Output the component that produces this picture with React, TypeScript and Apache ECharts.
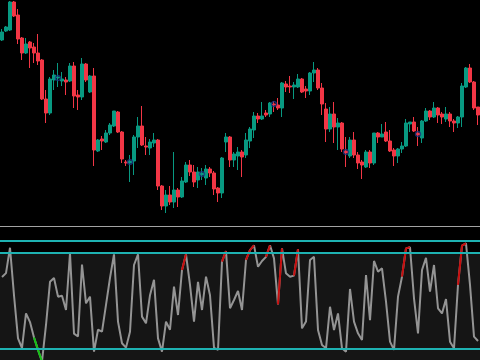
import React, { useEffect, useRef } from "react";
import * as echarts from "echarts";

const openPrices = [
  180, 189, 190, 218, 205, 182, 167, 178, 173, 167,
  160, 121, 107, 140, 142, 139, 140, 139, 154, 125,
  123, 156, 128, 144, 69, 81, 78, 87, 94, 108,
  88, 58, 57, 59, 83, 94, 74, 72, 77, 80,
  34, 14, 25, 18, 30, 23, 38, 55, 48, 40,
  45, 42, 51, 47, 32, 27, 78, 83, 60, 64,
  68, 65, 79, 90, 104, 101, 107, 106, 116, 115,
  112, 136, 134, 133, 133, 141, 131, 129, 147, 150,
  132, 111, 91, 106, 93, 97, 69, 64, 80, 65,
  58, 53, 68, 57, 87, 83, 88, 79, 70, 64,
  71, 74, 96, 98, 87, 82, 99, 109, 103, 112,
  106, 101, 106, 99, 97, 103, 133, 152, 138, 113,
];
const closePrices = [
  188, 193, 218, 204, 181, 167, 176, 172, 167, 159,
  121, 107, 141, 145, 143, 141, 138, 154, 124, 123,
  156, 140, 144, 70, 80, 79, 87, 95, 109, 88,
  61, 57, 59, 83, 94, 75, 73, 78, 80, 34,
  14, 25, 18, 30, 23, 39, 55, 48, 38, 48,
  47, 51, 47, 31, 27, 62, 83, 60, 66, 68,
  63, 80, 91, 104, 101, 104, 105, 117, 115, 112,
  137, 133, 133, 135, 141, 128, 129, 147, 150, 132,
  116, 91, 106, 93, 97, 71, 67, 80, 65, 57,
  55, 68, 57, 87, 83, 86, 79, 69, 64, 71,
  74, 97, 98, 89, 85, 99, 109, 103, 112, 105,
  103, 106, 99, 97, 103, 134, 152, 138, 112, 105,
];
const lowPrices = [
  179, 188, 189, 203, 176, 160, 166, 152, 157, 155,
  120, 97, 105, 130, 133, 134, 125, 138, 112, 110,
  120, 138, 127, 54, 68, 70, 77, 85, 93, 87,
  57, 54, 38, 45, 72, 74, 65, 65, 73, 30,
  10, 7, 15, 12, 13, 22, 37, 44, 33, 32,
  40, 35, 43, 25, 18, 22, 68, 53, 53, 50,
  43, 62, 72, 82, 97, 100, 103, 103, 108, 110,
  103, 128, 127, 121, 132, 127, 122, 125, 138, 130,
  105, 78, 88, 77, 70, 68, 53, 62, 62, 51,
  41, 52, 52, 55, 77, 83, 78, 68, 54, 57,
  67, 73, 88, 88, 74, 77, 98, 100, 102, 97,
  96, 98, 93, 88, 92, 93, 132, 137, 110, 95,
];
const highPrices = [
  191, 194, 219, 219, 211, 183, 182, 179, 177, 186,
  161, 130, 143, 150, 157, 148, 143, 157, 158, 130,
  162, 157, 145, 152, 81, 84, 90, 97, 109, 109,
  89, 60, 65, 85, 103, 114, 83, 81, 87, 81,
  35, 30, 34, 68, 32, 43, 58, 60, 55, 53,
  52, 55, 53, 49, 33, 63, 87, 84, 68, 73,
  70, 87, 93, 108, 107, 118, 110, 118, 119, 122,
  138, 139, 144, 138, 146, 142, 134, 148, 158, 152,
  137, 117, 113, 118, 102, 98, 83, 83, 88, 68,
  60, 70, 70, 87, 88, 96, 98, 90, 72, 72,
  78, 101, 98, 103, 93, 100, 112, 110, 118, 113,
  108, 113, 108, 101, 104, 137, 153, 156, 139, 113,
];

// bars (1-based) carrying a signal circle, and the price it sits at
const signalBars = [15, 33, 51, 69, 87, 105];
const signalPrices = [142, 58, 46, 116, 68, 86];

const oscillator = [
  75, 79, 105.5, 56, 11, 1, 37, 28, 12, -1,
  -13, 25, 70, 74, 54.5, 55.5, 40.6, 99.7, 16, 13,
  88, 47.6, 54.5, -2.8, 20, 18, 46, 74, 98.6, 28.5,
  6, 1.4, 18, 87.5, 98.6, 33.7, 26.7, 56, 72, 11,
  -2.8, 28.5, 20, 65, 35.4, 82.3, 98.6, 66.7, 28.5, 70,
  40.6, 75.3, 56, 1.4, -1, 91, 102, 42.4, 51, 60.4,
  40.6, 92.7, 103, 108, 85.7, 91.7, 96, 108, 94.4, 46.5,
  104.8, 78.8, 75.3, 76.4, 104, 21.5, 28.5, 92.7, 96, 19.8,
  4.2, 0.7, 44, 19.8, 37, 0.7, -2.8, 62.5, 28.5, 16.3,
  9.4, 77, 30, 91.7, 80.5, 84, 49.3, 7.6, -1, 54.5,
  75.3, 104.8, 106, 52.8, 16.3, 82.3, 95, 59.7, 87.5, 42.4,
  37, 52, 7.6, 0.7, 66.7, 107.6, 110, 66.7, 12.8, 8.3,
];
// bar ranges (1-based, inclusive) where the oscillator is drawn red / green
const redSegments = [[46, 47], [56, 57], [62, 64], [67, 68], [70, 71], [74, 75], [101, 103], [115, 117]];
const greenSegments = [[9, 11]];
const levelLines = [0, 100, 112.5];
const oscMin = -11.5;
const oscMax = 125;

export default function App() {
  const ref = useRef<HTMLDivElement>(null);
  useEffect(() => {
    const chart = echarts.init(ref.current!, null, { renderer: "svg" });
    const cats = openPrices.map((_, i) => String(i + 1));
    const candles = openPrices.map((o, i) => [o, closePrices[i], lowPrices[i], highPrices[i]]);
    const mask = (segs: number[][]) =>
      oscillator.map((v, i) => (segs.some(([a, b]) => i + 1 >= a && i + 1 <= b) ? v : null));
    const signals = signalBars.map((b, i) => [b - 1, signalPrices[i]]);
    chart.setOption({
      animation: false,
      backgroundColor: "#000000",
      grid: [
        { left: -2.7, right: -0.2, top: 0, height: 220 },
        { left: -2.7, right: -0.2, top: 229, bottom: 0 },
      ],
      xAxis: [
        { type: "category", data: cats, gridIndex: 0, show: false },
        { type: "category", data: cats, gridIndex: 1, show: false },
      ],
      yAxis: [
        { type: "value", gridIndex: 0, min: 0, max: 220, show: false },
        { type: "value", gridIndex: 1, min: oscMin, max: oscMax, show: false },
      ],
      graphic: [
        {
          type: "line",
          shape: { x1: 0, y1: 226.5, x2: 480, y2: 226.5 },
          style: { stroke: "#a3a3a3", lineWidth: 1 },
        },
      ],
      series: [
        {
          type: "candlestick",
          xAxisIndex: 0,
          yAxisIndex: 0,
          data: candles,
          barWidth: 2.6,
          itemStyle: {
            color: "#089981",
            color0: "#f23645",
            borderColor: "#089981",
            borderColor0: "#f23645",
            borderWidth: 1,
          },
        },
        {
          type: "scatter",
          xAxisIndex: 0,
          yAxisIndex: 0,
          data: signals,
          symbol: "circle",
          symbolSize: 5,
          z: 5,
          itemStyle: { color: "rgba(0,0,0,0)", borderColor: "#1b3585", borderWidth: 1.5 },
        },
        {
          type: "line",
          xAxisIndex: 1,
          yAxisIndex: 1,
          data: [],
          z: 1,
          silent: true,
          markArea: {
            silent: true,
            itemStyle: { color: "#151515" },
            data: [[{ yAxis: levelLines[1] }, { yAxis: oscMin }]],
          },
        },
        {
          type: "line",
          xAxisIndex: 1,
          yAxisIndex: 1,
          data: oscillator,
          symbol: "none",
          z: 3,
          lineStyle: { color: "#949494", width: 2 },
          markLine: {
            silent: true,
            symbol: "none",
            label: { show: false },
            lineStyle: { color: "#1eb2b2", width: 2, type: "solid" },
            data: levelLines.map((v) => ({ yAxis: v })),
          },
        },
        {
          type: "line",
          xAxisIndex: 1,
          yAxisIndex: 1,
          data: mask(redSegments),
          symbol: "none",
          z: 4,
          connectNulls: false,
          lineStyle: { color: "#c80d0d", width: 2 },
        },
        {
          type: "line",
          xAxisIndex: 1,
          yAxisIndex: 1,
          data: mask(greenSegments),
          symbol: "none",
          z: 4,
          connectNulls: false,
          lineStyle: { color: "#14c214", width: 2 },
        },
      ],
    });
    return () => chart.dispose();
  }, []);
  return <div ref={ref} style={{ width: 480, height: 360, position: "fixed", left: 0, top: 0 }} />;
}
